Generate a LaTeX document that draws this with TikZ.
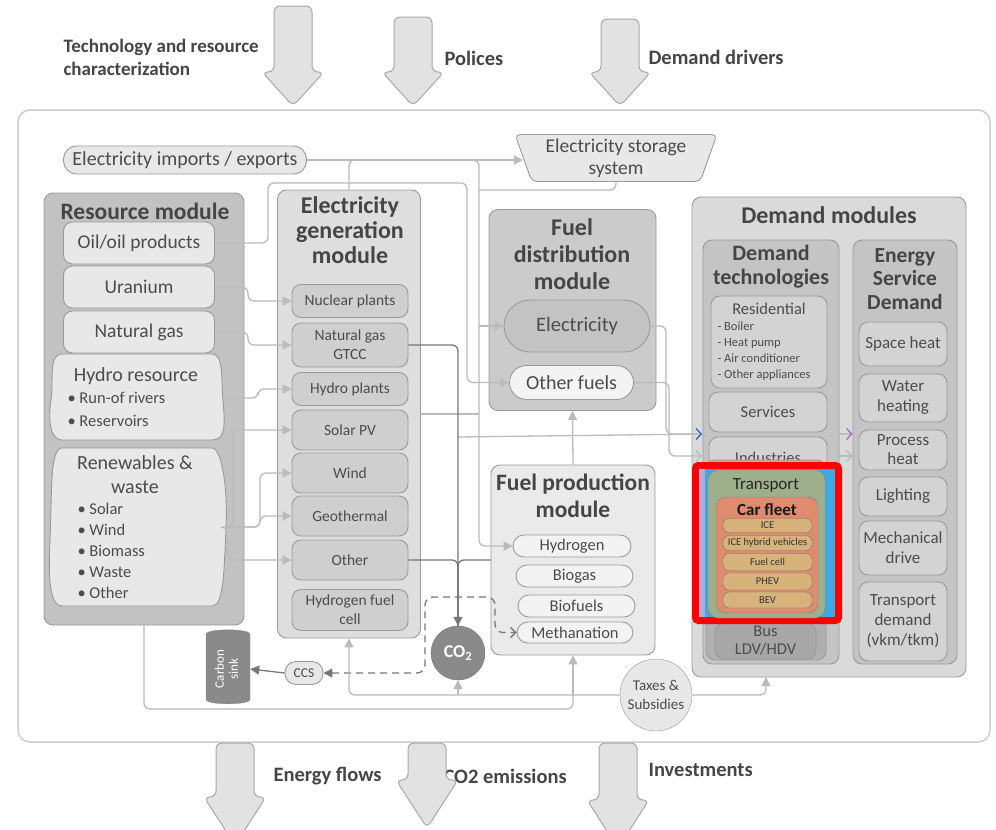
\documentclass[tikz,border=0pt]{standalone}
\usepackage{fontspec}
\setmainfont{Carlito}
\usetikzlibrary{arrows.meta,shapes.geometric,calc}

\newcommand{\fsz}[2]{\fontsize{#1}{#2}\selectfont}

\definecolor{titleg}{HTML}{454545}
\definecolor{txtg}{HTML}{4C4C4C}
\definecolor{boxline}{HTML}{9A9A9A}
\definecolor{flowline}{HTML}{BBBBBB}
\definecolor{darkline}{HTML}{777777}
\definecolor{arrfill}{HTML}{E2E2E2}
\definecolor{arrline}{HTML}{A8A8A8}
\definecolor{framel}{HTML}{CDCDCD}
\definecolor{resg}{HTML}{C2C2C2}
\definecolor{resitem}{HTML}{E8E8E8}
\definecolor{geng}{HTML}{DEDEDE}
\definecolor{genitem}{HTML}{CFCFCF}
\definecolor{fdg}{HTML}{CBCBCB}
\definecolor{elecg}{HTML}{C3C3C3}
\definecolor{paleg}{HTML}{F3F3F3}
\definecolor{fpg}{HTML}{EAEAEA}
\definecolor{dmg}{HTML}{DADADA}
\definecolor{colg}{HTML}{C4C4C4}
\definecolor{dtitem}{HTML}{D3D3D3}
\definecolor{co2g}{HTML}{8A8A8A}
\definecolor{trblue}{HTML}{3DA9E4}
\definecolor{trpurple}{HTML}{B7A9D6}
\definecolor{trgreen}{HTML}{9DB08B}
\definecolor{trorange}{HTML}{DE8B6E}
\definecolor{trtan}{HTML}{D7B37B}
\definecolor{hlred}{HTML}{FF0000}
\definecolor{elblue}{HTML}{1F6FD0}
\definecolor{elpurple}{HTML}{A066E0}

\tikzset{
  every node/.style={text=txtg},
  module/.style={draw=boxline, line width=0.9pt, rounded corners=9pt, inner sep=0pt},
  item/.style={draw=boxline, line width=0.9pt, rounded corners=9pt, inner sep=1pt, align=center, font=\fsz{16.5}{19}},
  genbox/.style={item, fill=genitem, minimum width=116pt, font=\fsz{15.5}{19}},
  esdbox/.style={item, fill=dtitem, minimum width=88pt, font=\fsz{17}{20}},
  modtitle/.style={font=\bfseries\fsz{24}{25}, align=center, text=titleg},
  toplab/.style={font=\bfseries\fsz{20.5}{23}, text=titleg},
  flow/.style={draw=flowline, line width=1.3pt, rounded corners=6pt},
  flowarr/.style={flow, -{Triangle[length=9pt,width=9pt]}},
  dark/.style={draw=darkline, line width=1.3pt, rounded corners=6pt},
  darkarr/.style={dark, -{Triangle[length=9pt,width=9pt]}},
  blockarr/.style={draw=arrline, fill=arrfill, line width=1pt, rounded corners=6pt},
  caritem/.style={draw=black!55, fill=trtan, rounded corners=6pt, minimum width=89pt, inner sep=0pt, font=\fsz{10.5}{11}, text=black!80},
}

\begin{document}
\begin{tikzpicture}[x=1pt,y=-1pt]
\useasboundingbox (0,0) rectangle (996,830);
\clip (0,0) rectangle (996,830);

% outside labels
\node[toplab, font=\bfseries\fsz{19}{23}, align=left, anchor=west] (techlab) at (60,57) {Technology and resource\\characterization};
\node[toplab, anchor=west] (pollab) at (441,58) {Polices};
\node[toplab, anchor=west] (demlab) at (645,57) {Demand drivers};
\node[toplab, anchor=west] (enlab) at (270,776) {Energy flows};
\node[toplab, anchor=west] (co2lab) at (440,776) {CO2 emissions};
\node[toplab, anchor=west] (invlab) at (645,770) {Investments};

% input / output arrows
\foreach \cx/\yt in {293/6,413/17,620/19}
  \draw[blockarr] ({\cx-19},\yt) -- ({\cx+19},\yt) -- ({\cx+19},72) -- ({\cx+31},72) -- (\cx,106) -- ({\cx-31},72) -- ({\cx-19},72) -- cycle;

% main frame
\draw[draw=framel, fill=white, line width=1.5pt, rounded corners=12pt] (18,110) rectangle (990,742);

\foreach \cx/\yw/\yt in {235/797/845,427/780/828,618/800/848}
  \draw[blockarr] ({\cx-19},743) -- ({\cx+19},743) -- ({\cx+19},\yw) -- ({\cx+31},\yw) -- (\cx,\yt) -- ({\cx-31},\yw) -- ({\cx-19},\yw) -- cycle;

% imports and storage
\node[item, fill=resitem, rounded corners=13pt, minimum width=243pt, minimum height=28pt, font=\fsz{20}{22}] (imports) at (185,160) {Electricity imports / exports};
\node[trapezium, shape border rotate=180, trapezium stretches=true, trapezium angle=70, draw=boxline, line width=0.9pt, fill=resitem, rounded corners=5pt, minimum width=202pt, minimum height=47pt, inner sep=0pt, align=center, font=\fsz{19.5}{22}] (storage) at (616,158) {Electricity storage\\system};

% resource module
\node[module, fill=resg, minimum width=200pt, minimum height=432pt] (resmod) at (144,409) {};
\node[modtitle, font=\bfseries\fsz{23.5}{25}] (restitle) at (145,211) {Resource module};
\node[item, fill=resitem, minimum width=151pt, minimum height=42pt, font=\fsz{19.5}{21}] (oil) at (139,243) {Oil/oil products};
\node[item, fill=resitem, minimum width=151pt, minimum height=42pt, font=\fsz{19.5}{21}] (uran) at (139,287) {Uranium};
\node[item, fill=resitem, minimum width=151pt, minimum height=42pt, font=\fsz{19.5}{21}] (ngas) at (139,332) {Natural gas};
\draw[draw=boxline, fill=resitem, line width=0.9pt] (62,354) -- (212,354) .. controls (224,354) and (221,380) .. (223,400) .. controls (225,425) and (226,440) .. (212,440) -- (62,440) .. controls (50,440) and (48,420) .. (51,400) .. controls (54,380) and (48,354) .. cycle;
\node[font=\fsz{20}{22}] (hydro) at (136,376) {Hydro resource};
\node[font=\fsz{16.5}{23}, align=left, anchor=north west] (hydlist) at (64,389) {\textbullet\ Run-of rivers\\\textbullet\ Reservoirs};
\draw[draw=boxline, fill=resitem, line width=0.9pt] (62,448) -- (212,448) .. controls (222,448) and (228,490) .. (226,528) .. controls (224,570) and (224,606) .. (212,606) -- (62,606) .. controls (50,606) and (48,580) .. (50,540) .. controls (52,490) and (50,448) .. cycle;
\node[font=\fsz{20}{24}, align=center] (renew) at (135,475) {Renewables \&\\waste};
\node[font=\fsz{16.5}{20.8}, align=left, anchor=north west] (renlist) at (74,500) {\textbullet\ Solar\\\textbullet\ Wind\\\textbullet\ Biomass\\\textbullet\ Waste\\\textbullet\ Other};
\coordinate (hydroE) at (223,398);
\coordinate (renE) at (225,527);

% electricity generation module
\node[module, fill=geng, minimum width=143pt, minimum height=448pt] (genmod) at (349,414) {};
\node[modtitle] (gentitle) at (350,230) {Electricity\\generation\\module};
\node[genbox, minimum height=33pt] (nuc) at (350,301) {Nuclear plants};
\node[genbox, minimum height=44pt] (gtcc) at (350,345) {Natural gas\\GTCC};
\node[genbox, minimum height=33pt] (hydpl) at (350,389) {Hydro plants};
\node[genbox, minimum height=40pt] (solar) at (350,430) {Solar PV};
\node[genbox, minimum height=40pt] (wind) at (350,473) {Wind};
\node[genbox, minimum height=40pt] (geo) at (350,516) {Geothermal};
\node[genbox, minimum height=40pt] (othgen) at (350,560) {Other};
\node[genbox, minimum height=41pt] (h2fc) at (350,610) {Hydrogen fuel\\cell};

% fuel distribution module
\node[module, fill=fdg, minimum width=167pt, minimum height=201pt] (fdmod) at (572.5,310) {};
\node[modtitle, font=\bfseries\fsz{24}{27}] (fdtitle) at (572,254) {Fuel\\distribution\\module};
\node[item, fill=elecg, rounded corners=26pt, minimum width=146pt, minimum height=52pt, font=\fsz{20.5}{22}] (elec) at (577,326) {Electricity};
\node[item, fill=paleg, rounded corners=17pt, minimum width=124pt, minimum height=34pt, font=\fsz{20}{22}] (othfuel) at (571.5,382.5) {Other fuels};

% fuel production module
\node[module, fill=fpg, minimum width=164pt, minimum height=190pt] (fpmod) at (573,560) {};
\node[modtitle, font=\bfseries\fsz{23.5}{27}] (fptitle) at (573,496) {Fuel production\\module};
\node[item, fill=paleg, rounded corners=11pt, minimum width=118pt, minimum height=22pt, font=\fsz{16.5}{18}] (hydrogen) at (572,546) {Hydrogen};
\node[item, fill=paleg, rounded corners=11pt, minimum width=117pt, minimum height=22pt, font=\fsz{16.5}{18}] (biogas) at (574.5,576) {Biogas};
\node[item, fill=paleg, rounded corners=11pt, minimum width=117pt, minimum height=22pt, font=\fsz{16.5}{18}] (biofuel) at (576.5,606) {Biofuels};
\node[item, fill=paleg, rounded corners=11pt, minimum width=116pt, minimum height=21pt, font=\fsz{16.5}{18}] (methan) at (575,632.5) {Methanation};

% CO2, CCS, carbon sink, taxes
\node[circle, draw=co2g!80!black, fill=co2g, minimum size=54pt, inner sep=0pt, font=\bfseries\fsz{18}{19}, text=white] (co2) at (458,653) {CO\textsubscript{2}};
\node[item, fill=resitem, rounded corners=11pt, minimum width=38pt, minimum height=23pt, font=\fsz{13.5}{15}] (ccs) at (304,673) {CCS};
\node[cylinder, shape border rotate=90, aspect=0.3, draw=black!45, fill=co2g, minimum height=74pt, minimum width=44pt, inner sep=0pt] (sink) at (228,669) {\rotatebox{90}{\fsz{13}{14}\color{white}\begin{tabular}{@{}c@{}}Carbon\\sink\end{tabular}}};
\node[circle, draw=boxline, fill=resitem, minimum size=72pt, inner sep=0pt, align=center, font=\fsz{15}{19}] (taxes) at (656,695) {Taxes \&\\Subsidies};

% demand modules
\node[module, fill=dmg, minimum width=274pt, minimum height=480pt] (dmmod) at (829,437) {};
\node[modtitle] (dmtitle) at (829,215) {Demand modules};
\node[module, fill=colg, minimum width=136pt, minimum height=424pt] (dtcol) at (771,452) {};
\node[modtitle, font=\bfseries\fsz{22}{24}] (dttitle) at (771,267) {Demand\\technologies};
\node[item, fill=dtitem, minimum width=116pt, minimum height=92pt] (resid) at (769,342) {};
\node[font=\fsz{16.5}{17}] (residtitle) at (769,309) {Residential};
\node[font=\fsz{12.5}{16}, align=left, anchor=north west] (residlist) at (714,318) {- Boiler\\- Heat pump\\- Air conditioner\\- Other appliances};
\node[item, fill=dtitem, minimum width=118pt, minimum height=40pt] (serv) at (768,412) {Services};
\node[item, fill=dtitem, minimum width=118pt, minimum height=66pt] (indus) at (768,470) {};
\node[font=\fsz{16.5}{17}] (industxt) at (768,458) {Industries};
\node[item, fill=colg!90!black, minimum width=120pt, minimum height=200pt] (trgray) at (766,560) {};
\node[item, fill=colg!85!black, minimum width=101pt, minimum height=36pt, font=\fsz{16.5}{18}] (bus) at (765.5,641) {Bus\\LDV/HDV};

% highlighted transport block
\node[draw=hlred, line width=7pt, fill=trblue, rounded corners=3pt, minimum width=143pt, minimum height=155pt, inner sep=0pt] (hlframe) at (767,543) {};
\fill[trpurple] (699,469) rectangle (705,617);
\node[draw=black!50, fill=trgreen, rounded corners=10pt, minimum width=117pt, minimum height=148pt, inner sep=0pt] (trans) at (766.5,544) {};
\node[font=\fsz{17}{18}, text=black!85] (transtitle) at (766,485) {Transport};
\node[draw=black!50, fill=trorange, rounded corners=10pt, minimum width=102pt, minimum height=116pt, inner sep=0pt] (carfl) at (767,555) {};
\node[font=\bfseries\fsz{17}{18}, text=black!90] (carfltitle) at (767,510) {Car fleet};
\node[caritem, minimum height=14pt] (ice) at (767.5,525.5) {ICE};
\node[caritem, minimum height=15pt] (icehyb) at (767.5,543) {ICE hybrid vehicles};
\node[caritem, minimum height=17pt] (fcell) at (767.5,562) {Fuel cell};
\node[caritem, minimum height=17pt] (phev) at (767.5,581.5) {PHEV};
\node[caritem, minimum height=16pt] (bev) at (767.5,600) {BEV};

% energy service demand
\node[module, fill=colg, minimum width=104pt, minimum height=424pt] (esdcol) at (905,452) {};
\node[modtitle, font=\bfseries\fsz{21.5}{23.5}] (esdtitle) at (905,279) {Energy\\Service\\Demand};
\node[esdbox, minimum height=44pt] (space) at (903,344) {Space heat};
\node[esdbox, minimum height=48pt] (water) at (903,398) {Water\\heating};
\node[esdbox, minimum height=40pt, font=\fsz{17}{19}] (proc) at (903,450) {Process\\heat};
\node[esdbox, minimum height=39pt] (light) at (903,496.5) {Lighting};
\node[esdbox, minimum height=54pt] (mech) at (903,548) {Mechanical\\drive};
\node[esdbox, minimum height=79pt] (trdem) at (903,621.5) {Transport\\demand\\(vkm/tkm)};

% helper points
\coordinate (dtin1) at (702,434);
\coordinate (dtin2) at (702,456);
\coordinate (co2bus) at (458,437);
\coordinate (dmin) at (766,677);

% flows
\draw[flowarr] (imports.east) -- (imports.east -| storage.west);
\draw[flowarr] (genmod.north) |- (479,160) |- (hydrogen.west);
\draw[flow] (storage.south) |- (479,190);
\draw[flowarr] (479,326) -- (elec.west);
\draw[flow] (genmod.east) -- (479,414);
\draw[flowarr] (oil.east) -- (268,243) -- (268,183) -- (467,183) -- (467,382.5) -- (othfuel.west);
\draw[flowarr] (uran.east) -- (248,287) |- (nuc.west);
\draw[flowarr] (ngas.east) -- (248,332) |- (gtcc.west);
\draw[flowarr] (hydroE) -- (258,398) |- (hydpl.west);
\draw[flowarr] (renE) -- (233,527) |- (solar.west);
\draw[flowarr] (renE) -- (260,527) |- (wind.west);
\draw[flowarr] (renE) -- (260,527) |- (geo.west);
\draw[flowarr] (renE) -- (227,527) |- (othgen.west);
\draw[flowarr] (fpmod.north) -- (fdmod.south);
\draw[flow] (co2bus) -- (dtin1);
\draw[flow, -{Straight Barb[length=5pt,width=11pt,color=elblue]}] (elec.east) -- (666,326) |- (dtin1);
\draw[flow, -{Straight Barb[length=5pt,width=11pt]}] (othfuel.east) -- (669,382.5) |- (dtin2);
\draw[flow, -{Straight Barb[length=5pt,width=11pt,color=elpurple]}] (dtcol.east |- dtin1) -- (esdcol.west |- dtin1);
\draw[flow, -{Straight Barb[length=5pt,width=11pt]}] (dtcol.east |- dtin2) -- (esdcol.west |- dtin2);

% emissions
\draw[darkarr] (gtcc.east) -| (co2.north);
\draw[dark] (othgen.east) -| (co2.north);
\draw[dark] (fpmod.west |- othgen.east) -| (co2.north);
\draw[draw=darkline, line width=1.3pt, dashed, dash pattern=on 7pt off 5pt, rounded corners=8pt, {Triangle[length=9pt,width=9pt]}-{Straight Barb[length=5pt,width=10pt]}] (ccs.east) -- (425,673) -- (425,597) -- (495,597) |- (methan.west);
\draw[darkarr] (ccs.west) -- (sink.east);

% taxes and resource flows
\draw[flowarr] (taxes.west) -| (genmod.south);
\draw[flowarr] (co2.south |- taxes.west) -- (co2.south);
\draw[flowarr] (fpmod.south |- taxes.west) -- (fpmod.south);
\draw[flowarr] (taxes.east) -| (dmin);
\draw[flow] (resmod.south) |- (573,709) -- (573,690);
\end{tikzpicture}
\end{document}
